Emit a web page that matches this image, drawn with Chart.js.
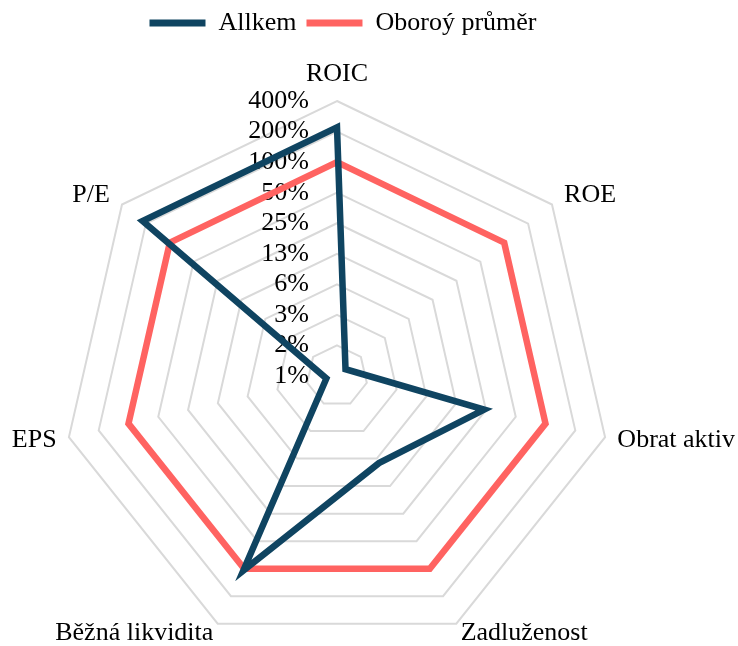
<!DOCTYPE html>
<html>
<head>
<meta charset="utf-8">
<script src="https://cdn.jsdelivr.net/npm/chart.js@4"></script>
<style>
  html, body { margin: 0; padding: 0; background: #ffffff; overflow: hidden; }
  /* canvas is wider than the page so the radar can use the full height */
  #wrap { position: absolute; left: -81px; top: 0; width: 848px; height: 670px; }
</style>
</head>
<body>
<div id="wrap"><canvas id="radar-chart"></canvas></div>
<script>
// Radar Chart (log2 scale, centre = 0.78125 %)

const categories = ["ROIC", "ROE", "Obrat aktiv", "Zadluženost", "Běžná likvidita", "EPS", "P/E"];
const allkem = [2.2, 0.01, 0.24, 0.07, 1.05, 0.01, 2.2];
const industryAvg = [1, 1, 1, 1, 1, 1, 1];
const tickLabels = ["1%", "2%", "3%", "6%", "13%", "25%", "50%", "100%", "200%", "400%"];
const BASE = 0.0078125;

const toLog = (v) => Math.log2(v / BASE);

const FONT = "Liberation Serif";

// point label placement (Excel centres the labels on the spoke)
const LABEL_PAD = [17, 15.5, 12.6, 10, 10, 12.6, 15.5];
const LABEL_LH = [0.77, 0.01, 0.01, 0.01, 0.01, 0.01, 0.01];

// tick labels sit left of the vertical axis, right aligned
const tickLabelPlugin = {
  id: "tickLabelPlugin",
  beforeDatasetsDraw(chart) {
    const { ctx } = chart;
    const r = chart.scales.r;
    ctx.save();
    ctx.font = "26px '" + FONT + "'";
    ctx.fillStyle = "#000000";
    ctx.textAlign = "right";
    ctx.textBaseline = "middle";
    r.ticks.forEach((tick) => {
      const d = r.getDistanceFromCenterForValue(tick.value);
      ctx.fillText(tick.label, r.xCenter - 28, r.yCenter - d);
    });
    ctx.restore();
  },
};

const ctx = document.getElementById("radar-chart");

new Chart(ctx, {
  type: "radar",
  data: {
    labels: categories,
    datasets: [{
        label: "Allkem",
        data: allkem.map(toLog),
        borderColor: "#0f4461",
        backgroundColor: "#0f4461",
        borderWidth: 6.5,
        borderCapStyle: "round",
        borderJoinStyle: "miter",
        pointRadius: 0,
        fill: false,
      },
      {
        label: "Oboroý průměr",
        data: industryAvg.map(toLog),
        borderColor: "#ff6361",
        backgroundColor: "#ff6361",
        borderWidth: 6.5,
        borderCapStyle: "round",
        borderJoinStyle: "miter",
        pointRadius: 0,
        fill: false,
      },
    ],
  },
  options: {
    responsive: true,
    maintainAspectRatio: false,
    animation: false,
    plugins: {
      legend: {
        position: "top",
        labels: {
          usePointStyle: true,
          pointStyle: "line",
          pointStyleWidth: 56,
          padding: 10,
          color: "#000000",
          font: { family: FONT, size: 26, lineHeight: 1 },
          generateLabels(chart) {
            const items = Chart.defaults.plugins.legend.labels.generateLabels(chart);
            items.forEach((it) => { it.lineWidth = 7; });
            return items;
          },
        },
      },
      tooltip: { enabled: false },
    },
    scales: {
      r: {
        min: 0,
        max: 9,
        ticks: {
          display: false,
          stepSize: 1,
          callback: (value, index) => tickLabels[index],
        },
        grid: {
          color: "#d9d9d9",
          lineWidth: 2,
        },
        angleLines: { display: false },
        pointLabels: {
          color: "#000000",
          padding: (c) => LABEL_PAD[c.index],
          font: (c) => ({ family: FONT, size: 26, lineHeight: LABEL_LH[c.index] }),
        },
      },
    },
  },
  plugins: [tickLabelPlugin],
});
</script>
</body>
</html>
